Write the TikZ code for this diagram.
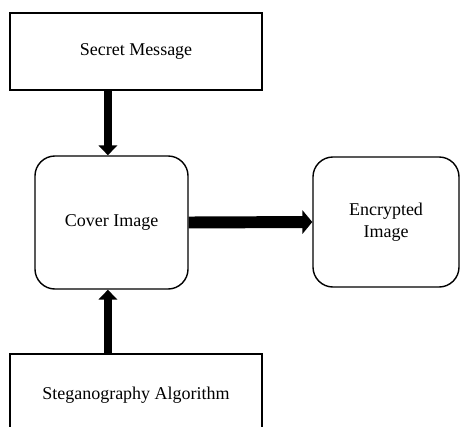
\documentclass[tikz,border=0pt]{standalone}
\usepackage{fontspec}
\setmainfont{Liberation Serif}
\usepackage{tikz}
\usetikzlibrary{arrows.meta}
\tikzset{x=0.025cm, y=-0.025cm,
  every node/.style = {font=\fontsize{12.8}{15.6}\selectfont, align=center},
  plainbox/.style   = {draw, line width=1pt, rectangle},
  roundbox/.style   = {draw, line width=1pt, rectangle, rounded corners=0.5cm},
  fatarrow/.style   = {line width=5.7pt, -{Triangle[length=7pt,width=13pt]}},
  widearrow/.style  = {line width=8.5pt, -{Triangle[length=7pt,width=16.5pt]}}}

\begin{document}
\begin{tikzpicture}
  \useasboundingbox (0,0) rectangle (460,427);
  \clip (0,0) rectangle (460,427);
  \node[plainbox, minimum width=6.3cm, minimum height=1.925cm] (secret) at (136,51.5) {Secret Message};
  \node[roundbox, minimum width=3.825cm, minimum height=3.325cm] (cover) at (111.5,222.5) {Cover Image};
  \node[roundbox, minimum width=3.65cm, minimum height=3.25cm] (encrypted) at (386,222) {Encrypted\\Image};
  \node[plainbox, minimum width=6.3cm, minimum height=2.05cm] (stego) at (136,395) {Steganography Algorithm};
  \draw[fatarrow] ([xshift=-0.09cm]cover.north |- secret.south) -- ([xshift=-0.09cm]cover.north);
  \draw[fatarrow] ([xshift=-0.09cm]cover.south |- stego.north) -- ([xshift=-0.09cm]cover.south);
  \draw[widearrow] (cover.east) -- (encrypted.west);
\end{tikzpicture}
\end{document}
